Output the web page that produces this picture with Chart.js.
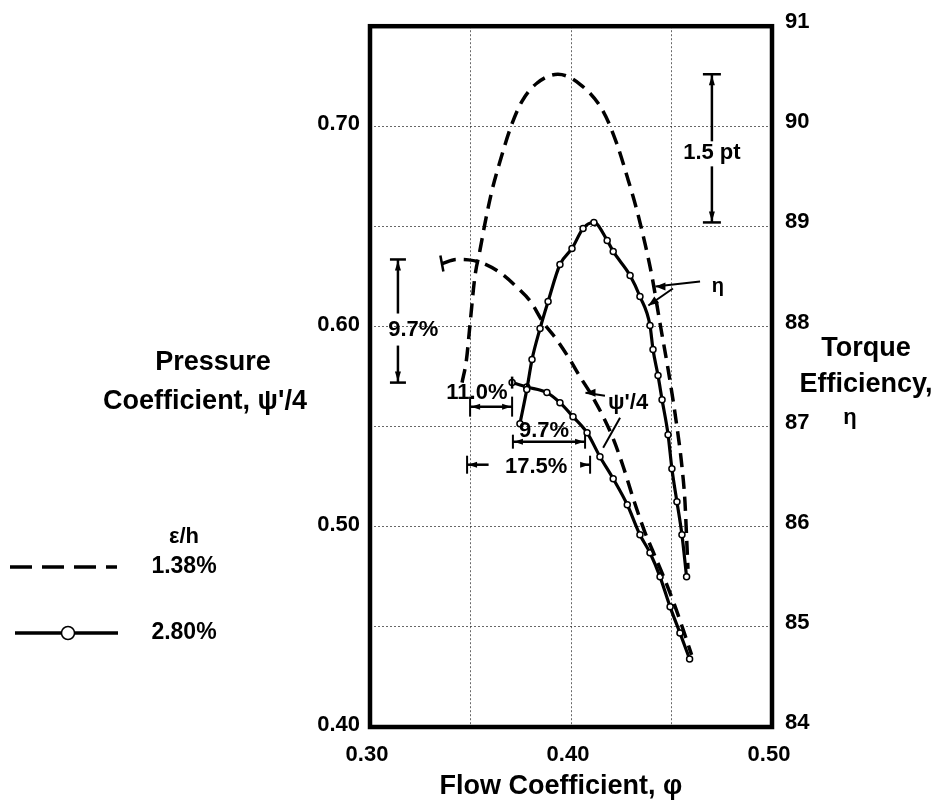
<!DOCTYPE html>
<html>
<head>
<meta charset="utf-8">
<script src="https://cdn.jsdelivr.net/npm/chart.js@4.4.1/dist/chart.umd.min.js"></script>
<style>
  html, body { margin: 0; padding: 0; background: #fff; }
  #wrap { position: relative; width: 938px; height: 803px; }
  canvas { display: block; }
</style>
</head>
<body>
<div id="wrap"><canvas id="c" width="938" height="803"></canvas></div>
<script>
// Axis ticks
const phiTicks = [0.30, 0.35, 0.40, 0.45, 0.50];
const phiLabels = [0.30, 0.40, 0.50];
const psiTicks = [0.40, 0.45, 0.50, 0.55, 0.60, 0.65, 0.70, 0.75];
const psiLabels = [0.40, 0.50, 0.60, 0.70];
const etaTicks = [84, 85, 86, 87, 88, 89, 90, 91];

// Clearance ε/h = 1.38 % : torque efficiency η
const etaPhiA = [0.3458, 0.3480, 0.3497, 0.3522, 0.3547, 0.3572, 0.3607, 0.3647, 0.3700, 0.3756, 0.3830, 0.3935,
                 0.4045, 0.4160, 0.4229, 0.4279, 0.4328, 0.4368, 0.4403, 0.4443, 0.4485, 0.4527, 0.4552, 0.4567, 0.4575, 0.4582];
const etaA    = [87.44, 87.67, 88.01, 88.50, 88.76, 89.03, 89.36, 89.65, 89.99, 90.25, 90.43, 90.52,
                 90.42, 90.15, 89.82, 89.50, 89.16, 88.83, 88.50, 88.03, 87.55, 87.00, 86.60, 86.25, 85.90, 85.58];
// Clearance ε/h = 1.38 % : pressure coefficient ψ'/4
const psiPhiA = [0.3360, 0.3430, 0.3490, 0.3560, 0.3650, 0.3730, 0.3800, 0.3860, 0.3930, 0.3995, 0.4045, 0.4095,
                 0.4160, 0.4210, 0.4260, 0.4310, 0.4365, 0.4415, 0.4465, 0.4515, 0.4560, 0.4600];
const psiA    = [0.6315, 0.6335, 0.6333, 0.6317, 0.6267, 0.6197, 0.6123, 0.6023, 0.5933, 0.5834, 0.5749, 0.5670,
                 0.5550, 0.5440, 0.5300, 0.5140, 0.4980, 0.4860, 0.4740, 0.4610, 0.4480, 0.4360];

// Clearance ε/h = 2.80 % : torque efficiency η (measured points)
const etaPhiB = [0.3746, 0.3780, 0.3806, 0.3846, 0.3886, 0.3945, 0.4005, 0.4060, 0.4114, 0.4180, 0.4210, 0.4294,
                 0.4343, 0.4393, 0.4408, 0.4433, 0.4453, 0.4483, 0.4502, 0.4527, 0.4552, 0.4575];
const etaB    = [87.03, 87.37, 87.67, 87.98, 88.25, 88.62, 88.78, 88.98, 89.04, 88.86, 88.75, 88.51,
                 88.30, 88.01, 87.77, 87.51, 87.27, 86.92, 86.58, 86.25, 85.92, 85.50];
// Clearance ε/h = 2.80 % : pressure coefficient ψ'/4 (measured points)
const psiPhiB = [0.3707, 0.3780, 0.3880, 0.3945, 0.4010, 0.4080, 0.4144, 0.4210, 0.4280, 0.4343, 0.4393, 0.4443,
                 0.4493, 0.4542, 0.4590];
const psiB    = [0.5720, 0.5698, 0.5670, 0.5620, 0.5550, 0.5470, 0.5350, 0.5240, 0.5110, 0.4960, 0.4870, 0.4750,
                 0.4600, 0.4470, 0.4340];

const toPts = (xs, ys) => xs.map((x, i) => ({ x, y: ys[i] }));

const FONT = '"Liberation Sans", Arial, Helvetica, sans-serif';
const GRID_COLOR = 'rgba(40,40,40,0.7)';

function fixSize(prop, v) { return s => { s[prop] = v; }; }

// Frame, brackets, leader lines, axis titles and key
const decor = {
  id: 'decor',
  afterDraw(chart) {
    const ctx = chart.ctx;
    const a = chart.chartArea;
    const X = v => chart.scales.x.getPixelForValue(v);
    const YL = v => chart.scales.yL.getPixelForValue(v);
    const YR = v => chart.scales.yR.getPixelForValue(v);

    ctx.save();
    ctx.strokeStyle = '#000';
    ctx.fillStyle = '#000';

    // plot frame
    ctx.lineWidth = 4.5;
    ctx.strokeRect(a.left, a.top, a.right - a.left, a.bottom - a.top);

    const line = (x1, y1, x2, y2, w) => {
      ctx.lineWidth = w || 2;
      ctx.beginPath(); ctx.moveTo(x1, y1); ctx.lineTo(x2, y2); ctx.stroke();
    };
    const arrow = (x, y, dx, dy, len, hw) => {
      const L = Math.hypot(dx, dy); const ux = dx / L, uy = dy / L;
      len = len || 9; hw = hw || 3.5;
      ctx.beginPath();
      ctx.moveTo(x, y);
      ctx.lineTo(x - ux * len - uy * hw, y - uy * len + ux * hw);
      ctx.lineTo(x - ux * len + uy * hw, y - uy * len - ux * hw);
      ctx.closePath(); ctx.fill();
    };
    const text = (s, x, y, size, align, style) => {
      ctx.font = (style ? style + ' ' : '') + 'bold ' + size + 'px ' + FONT;
      ctx.textAlign = align || 'center';
      ctx.textBaseline = 'middle';
      ctx.fillText(s, x, y);
    };
    // vertical dimension bracket with a gap for its label
    const vBracket = (x, y1, y2, g1, g2, cap) => {
      line(x, y1, x, g1, 2.5); line(x, g2, x, y2, 2.5);
      line(x - cap, y1, x + cap, y1, 2.5); line(x - cap, y2, x + cap, y2, 2.5);
      arrow(x, y1 + 1, 0, -1, 10, 3); arrow(x, y2 - 1, 0, 1, 10, 3);
    };
    // horizontal dimension bracket, optional gap for its label
    const hBracket = (y, x1, x2, cap, g1, g2) => {
      if (g1 !== undefined) { line(x1, y, g1, y, 2.5); line(g2, y, x2, y, 2.5); }
      else line(x1, y, x2, y, 2.5);
      line(x1, y - cap, x1, y + cap, 2); line(x2, y - cap, x2, y + cap, 2);
      arrow(x1 + 1, y, -1, 0, 9, 3); arrow(x2 - 1, y, 1, 0, 9, 3);
    };

    // peak efficiency drop: 1.5 pt
    const etaPeakA = Math.max(...etaA), etaPeakB = Math.max(...etaB);
    const xb = X(0.4701);
    vBracket(xb, YR(etaPeakA), YR(etaPeakB), YR(89.85), YR(89.60), 9);
    text('1.5 pt', xb, YR(89.73), 22);

    // peak pressure drop: 9.7 %
    const psiPeakA = Math.max(...psiA), psiPeakB = Math.max(...psiB);
    const xv = X(0.3139);
    vBracket(xv, YL(psiPeakA), YL(psiPeakB), YL(0.6065), YL(0.5905), 8);
    text('9.7%', X(0.3215), YL(0.5985), 22);

    // flow-coefficient shifts
    hBracket(YL(0.5600), X(0.3498), X(0.3707), 10);
    text('11.0%', X(0.3532), YL(0.5670), 22);
    hBracket(YL(0.5425), X(0.3711), X(0.4070), 7);
    text('9.7%', X(0.3866), YL(0.5478), 22);
    hBracket(YL(0.5310), X(0.3483), X(0.4095), 9, X(0.3590), X(0.4060));
    text('17.5%', X(0.3827), YL(0.5300), 22);

    // stall marks at the start of the pressure curves
    line(X(psiPhiA[0]) - 2, YL(psiA[0]) - 8, X(psiPhiA[0]) + 1, YL(psiA[0]) + 8, 2.5);
    line(X(psiPhiB[0]), YL(psiB[0]) - 6, X(psiPhiB[0]), YL(psiB[0]) + 6, 2.5);

    // η label with leaders
    text('η', X(0.4731), YR(88.40), 20);
    line(X(0.4642), YR(88.45), X(0.4420), YR(88.40), 2);
    arrow(X(0.4420), YR(88.40), -1, 0, 10, 4);
    line(X(0.4507), YR(88.38), X(0.4385), YR(88.21), 2);
    arrow(X(0.4385), YR(88.21), X(0.4385) - X(0.4507), YR(88.21) - YR(88.38), 10, 4);

    // ψ'/4 label with leaders
    text('ψ\'/4', X(0.4284), YL(0.5619), 22);
    line(X(0.4169), YL(0.5654), X(0.4072), YL(0.5669), 2);
    arrow(X(0.4072), YL(0.5669), -1, 0, 10, 4);
    line(X(0.4244), YL(0.5545), X(0.4160), YL(0.5395), 2);

    // axis titles
    text('Pressure', 213, 363, 27);
    text('Coefficient, ψ\'/4', 205, 402, 27);
    text('Torque', 866, 349, 27);
    text('Efficiency,', 866, 385, 27);
    text('η', 850, 418, 22);
    text('Flow Coefficient, φ', 561, 787, 27);

    // key
    text('ε/h', 184, 537, 22);
    ctx.setLineDash([22, 10]);
    line(10, 567, 117, 567, 3.5);
    ctx.setLineDash([]);
    text('1.38%', 184, 567, 23);
    line(15, 633, 118, 633, 3.5);
    ctx.beginPath(); ctx.arc(68, 633, 6.5, 0, Math.PI * 2);
    ctx.fillStyle = '#fff'; ctx.fill(); ctx.lineWidth = 1.5; ctx.stroke();
    ctx.fillStyle = '#000';
    text('2.80%', 184, 633, 23);

    ctx.restore();
  }
};

const solidStyle = {
  borderColor: '#000', borderWidth: 3.2, fill: false,
  cubicInterpolationMode: 'monotone',
  pointRadius: 3, pointBorderWidth: 1.5,
  pointBackgroundColor: '#fff', pointBorderColor: '#000'
};
const dashStyle = {
  borderColor: '#000', borderWidth: 3.5, borderDash: [14, 8], fill: false,
  cubicInterpolationMode: 'monotone', pointRadius: 0
};

new Chart(document.getElementById('c'), {
  type: 'line',
  data: {
    datasets: [
      Object.assign({ label: 'η, ε/h 1.38%', data: toPts(etaPhiA, etaA), yAxisID: 'yR' }, dashStyle),
      Object.assign({ label: 'ψ\'/4, ε/h 1.38%', data: toPts(psiPhiA, psiA), yAxisID: 'yL' }, dashStyle),
      Object.assign({ label: 'η, ε/h 2.80%', data: toPts(etaPhiB, etaB), yAxisID: 'yR' }, solidStyle),
      Object.assign({ label: 'ψ\'/4, ε/h 2.80%', data: toPts(psiPhiB, psiB), yAxisID: 'yL' }, solidStyle)
    ]
  },
  options: {
    responsive: false,
    animation: false,
    layout: { padding: { top: 22, left: 0, right: 0, bottom: 0 } },
    plugins: { legend: { display: false }, tooltip: { enabled: false } },
    scales: {
      x: {
        type: 'linear', min: 0.30, max: 0.50,
        afterBuildTicks: s => { s.ticks = phiTicks.map(v => ({ value: v })); },
        afterFit: fixSize('height', 76),
        ticks: {
          color: '#000', padding: 15, labelOffset: -3, maxRotation: 0,
          font: { family: FONT, size: 22, weight: 'bold' },
          callback: v => phiLabels.some(t => Math.abs(t - v) < 1e-6) ? v.toFixed(2) : ''
        },
        grid: { color: GRID_COLOR, lineWidth: 1, drawTicks: false },
        border: { display: false, dash: [2, 2] }
      },
      yL: {
        type: 'linear', position: 'left', min: 0.40, max: 0.75,
        afterBuildTicks: s => { s.ticks = psiTicks.map(v => ({ value: v })); },
        afterFit: fixSize('width', 370),
        ticks: {
          color: '#000', padding: 10, labelOffset: -2,
          font: { family: FONT, size: 22, weight: 'bold' },
          callback: v => psiLabels.some(t => Math.abs(t - v) < 1e-6) ? v.toFixed(2) : ''
        },
        grid: { color: GRID_COLOR, lineWidth: 1, drawTicks: false },
        border: { display: false, dash: [2, 2] }
      },
      yR: {
        type: 'linear', position: 'right', min: 84, max: 91,
        afterBuildTicks: s => { s.ticks = etaTicks.map(v => ({ value: v })); },
        afterFit: fixSize('width', 166),
        ticks: {
          color: '#000', padding: 13, labelOffset: -4,
          font: { family: FONT, size: 22, weight: 'bold' },
          callback: v => String(v)
        },
        grid: { display: false, drawTicks: false },
        border: { display: false }
      }
    }
  },
  plugins: [decor]
});
</script>
</body>
</html>
